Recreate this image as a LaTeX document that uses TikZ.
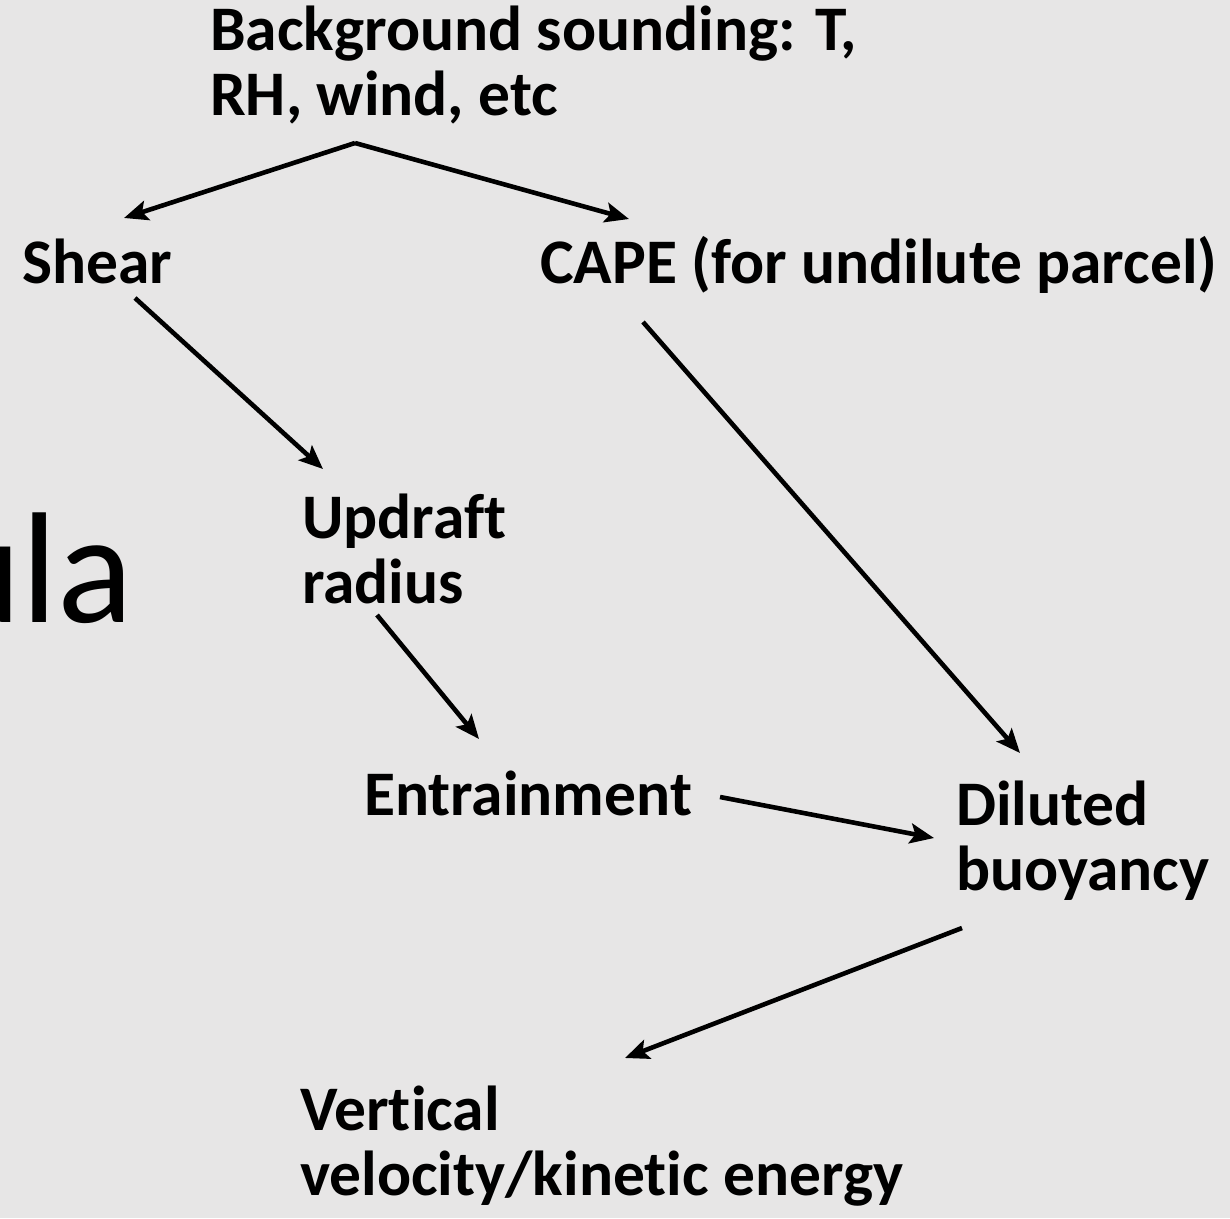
\documentclass[tikz,border=0pt]{standalone}
\usepackage{fontspec}
\setmainfont{Carlito}[Ligatures=NoCommon]
\usetikzlibrary{arrows.meta}
\definecolor{bgc}{HTML}{E7E6E6}
\begin{document}
\begin{tikzpicture}[x=1pt,y=-1pt,
  lbl/.style={anchor=base west,inner sep=0pt,align=left,font=\fontsize{63.5}{65}\selectfont\bfseries},
  arr/.style={line width=4.6pt,-{Stealth[length=24pt,width=20pt,inset=5pt]}}]
\fill[bgc] (0,0) rectangle (1230,1218);
\useasboundingbox (0,0) rectangle (1230,1218);
\node[anchor=base east,inner sep=0pt,font=\fontsize{158}{160}\selectfont] (title) at (134,622) {ula};
\node[lbl] (bg) at (210,115) {Background sounding: T,\\RH, wind, etc};
\node[lbl] (shear) at (22,283) {Shear};
\node[lbl] (cape) at (540,283) {CAPE (for undilute parcel)};
\node[lbl] (upd) at (302,603) {Updraft\\radius};
\node[lbl] (ent) at (364,815) {Entrainment};
\node[lbl] (dil) at (956,890) {Diluted\\buoyancy};
\node[lbl] (vert) at (300,1195) {Vertical\\velocity/kinetic energy};
\coordinate (bgapex) at (355,143);
\coordinate (shearin) at (124,218);
\coordinate (capein) at (629,219);
\coordinate (shearout) at (135,298);
\coordinate (updin) at (323,469);
\coordinate (capeout) at (643,322);
\coordinate (dilin) at (1020,753);
\coordinate (updout) at (377,615);
\coordinate (entin) at (479,739);
\coordinate (entout) at (720,797);
\coordinate (dilin2) at (934,838);
\coordinate (dilout) at (962,928);
\coordinate (vertin) at (625,1058);
\draw[arr] (bgapex) -- (shearin);
\draw[arr] (bgapex) -- (capein);
\draw[arr] (shearout) -- (updin);
\draw[arr] (capeout) -- (dilin);
\draw[arr] (updout) -- (entin);
\draw[arr] (entout) -- (dilin2);
\draw[arr] (dilout) -- (vertin);
\end{tikzpicture}
\end{document}
